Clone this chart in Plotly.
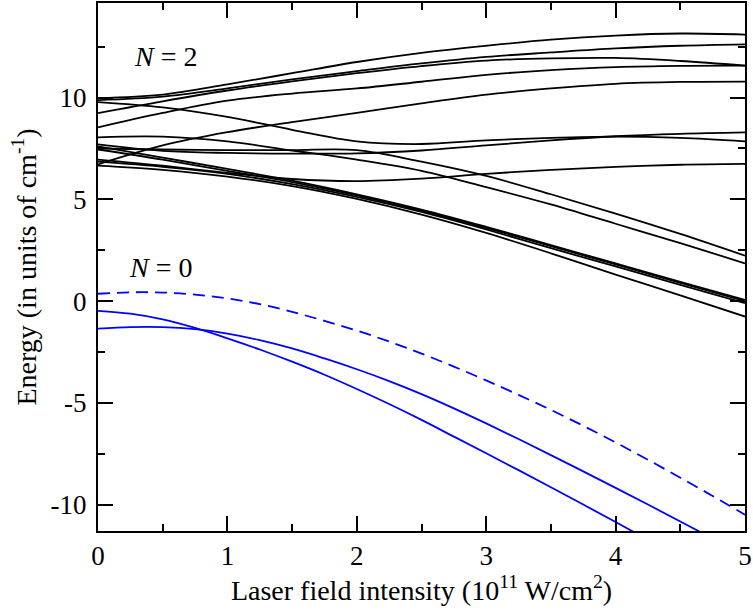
import plotly.graph_objects as go

# Field intensity grids (10^11 W/cm^2)
x_coarse = [0, 0.5, 1, 1.5, 2, 2.5, 3, 3.5, 4, 4.5, 5]
x_fine = [0, 0.25, 0.5, 0.75, 1, 1.25, 1.5, 1.75, 2, 2.25, 2.5,
          2.75, 3, 3.25, 3.5, 3.75, 4, 4.25, 4.5, 4.75, 5]

# N = 2 manifold (black), energies in cm^-1 on x_coarse
n2_levels = [
    [9.98, 10.15, 10.65, 11.2, 11.75, 12.2, 12.55, 12.85, 13.05, 13.15, 13.1],
    [9.88, 10.05, 10.45, 10.9, 11.3, 11.68, 12.0, 12.22, 12.42, 12.55, 12.62],
    [9.24, 9.82, 10.35, 10.8, 11.2, 11.55, 11.82, 11.93, 11.95, 11.8, 11.57],
    [8.54, 9.25, 9.85, 10.2, 10.45, 10.78, 11.12, 11.35, 11.5, 11.56, 11.57],
    [6.72, 7.65, 8.3, 8.8, 9.25, 9.72, 10.15, 10.45, 10.68, 10.77, 10.79],
    [9.78, 9.52, 9.05, 8.42, 7.85, 7.72, 7.9, 8.02, 8.08, 8.02, 7.85],
    [7.7, 7.38, 7.28, 7.25, 7.26, 7.4, 7.65, 7.9, 8.1, 8.22, 8.29],
    [6.95, 6.65, 6.3, 6.0, 5.9, 6.02, 6.25, 6.45, 6.6, 6.7, 6.74],
    [8.05, 8.08, 7.85, 7.4, 6.95, 6.4, 5.6, 4.75, 3.8, 2.85, 1.85],
    [7.5, 7.45, 7.42, 7.42, 7.42, 6.85, 6.15, 5.25, 4.3, 3.3, 2.23],
    [7.6, 7.05, 6.5, 5.92, 5.25, 4.5, 3.65, 2.75, 1.85, 0.95, 0.06],
    [7.45, 6.95, 6.4, 5.85, 5.2, 4.45, 3.6, 2.7, 1.8, 0.9, 0.0],
    [6.85, 6.6, 6.25, 5.75, 5.12, 4.38, 3.52, 2.6, 1.7, 0.8, -0.1],
    [6.66, 6.45, 6.12, 5.65, 5.02, 4.25, 3.35, 2.35, 1.3, 0.28, -0.76],
]

# N = 0 manifold (blue), energies in cm^-1 on x_fine
n0_dashed = [0.36, 0.43, 0.42, 0.32, 0.13, -0.15, -0.53, -0.97, -1.45, -1.99, -2.58,
             -3.22, -3.9, -4.61, -5.35, -6.13, -6.95, -7.8, -8.68, -9.58, -10.5]
n0_upper = [-1.35, -1.28, -1.28, -1.38, -1.6, -1.92, -2.33, -2.82, -3.35, -3.93, -4.57,
            -5.27, -6.01, -6.78, -7.57, -8.37, -9.18, -10.0, -10.83, -11.67, -12.52]
n0_lower = [-0.48, -0.62, -0.9, -1.32, -1.83, -2.38, -2.98, -3.62, -4.32, -5.06, -5.84,
            -6.66, -7.48, -8.31, -9.15, -10.0, -10.86, -11.73, -12.61, -13.5, -14.4]

y_tick_vals = [-10, -5, 0, 5, 10]
y_tick_text = ["-10", "-5", "0", "5", "10"]
x_tick_vals = [0, 1, 2, 3, 4, 5]

FONT = "Liberation Serif"

fig = go.Figure()

for level in n2_levels:
    fig.add_trace(go.Scatter(
        x=x_coarse, y=level, mode="lines",
        line=dict(color="black", width=1.8, shape="spline"),
        showlegend=False, hoverinfo="skip"))

fig.add_trace(go.Scatter(
    x=x_fine, y=n0_dashed, mode="lines",
    line=dict(color="#0000ff", width=1.8, dash="12px,7px", shape="spline"),
    showlegend=False))
for level in (n0_upper, n0_lower):
    fig.add_trace(go.Scatter(
        x=x_fine, y=level, mode="lines",
        line=dict(color="#0000ff", width=1.8, shape="spline"),
        showlegend=False))

axis_common = dict(
    showgrid=False, zeroline=False, showline=True, linecolor="black",
    linewidth=2, mirror="allticks", ticks="inside", tickcolor="black",
    tickwidth=1.5, ticklen=15,
    tickfont=dict(family=FONT, size=27, color="black"),
    minor=dict(ticks="inside", ticklen=7, tickcolor="black", tickwidth=1.5),
)

fig.update_xaxes(
    range=[0, 5], tickmode="array", tickvals=x_tick_vals,
    minor_dtick=0.5, minor_tick0=0,
    title=dict(text="Laser field intensity (10<sup>11</sup> W/cm<sup>2</sup>)",
               font=dict(family=FONT, size=28, color="black"), standoff=8),
    **axis_common)
fig.update_yaxes(
    range=[-11.3, 14.65], tickmode="array", tickvals=y_tick_vals,
    ticktext=y_tick_text, minor_dtick=2.5, minor_tick0=0,
    ticklabelstandoff=4,
    title=dict(text="Energy (in units of cm<sup>-1</sup>)",
               font=dict(family=FONT, size=28, color="black"), standoff=6),
    **axis_common)

fig.add_annotation(x=0.52, y=12.0, text="<i>N</i> = 2", showarrow=False,
                   font=dict(family=FONT, size=28, color="black"))
fig.add_annotation(x=0.48, y=1.66, text="<i>N</i> = 0", showarrow=False,
                   font=dict(family=FONT, size=28, color="black"))

fig.update_layout(
    width=753, height=613,
    margin=dict(l=98, r=8, t=1, b=82),
    plot_bgcolor="white", paper_bgcolor="white",
)

fig.write_html("out.html")
